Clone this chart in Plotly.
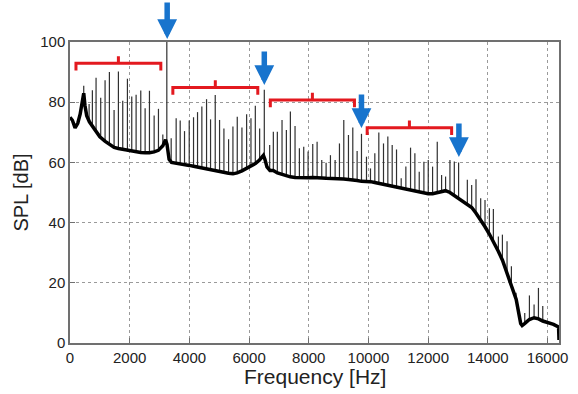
import numpy as np
import plotly.graph_objects as go

# ---------------- data ----------------
base_freq = [0, 80, 170, 260, 340, 420, 460, 500, 560, 650, 750, 870, 1000, 1180, 1320,
             1480, 1620, 1770, 1920, 2070, 2220, 2370, 2520, 2660, 2820, 2960, 3110, 3200,
             3250, 3320, 3400, 3560, 3700, 3840, 4000, 4140, 4280, 4420, 4580, 4710, 4870,
             5010, 5160, 5310, 5460, 5600, 5760, 5920, 6060, 6210, 6350, 6480, 6530, 6600,
             6700, 6810, 6950, 7100, 7250, 7380, 7540, 7690, 7830, 7980, 8130, 8280, 8440,
             8580, 8730, 8880, 9030, 9170, 9330, 9480, 9620, 9770, 9930, 10070, 10210, 10350,
             10500, 10650, 10800, 10940, 11100, 11250, 11410, 11560, 11700, 11860, 12000,
             12150, 12300, 12450, 12580, 12730, 12880, 13020, 13160, 13310, 13460, 13600,
             13760, 13900, 14050, 14190, 14350, 14490, 14640, 14790, 14950, 15100, 15150,
             15240, 15390, 15550, 15700, 15840, 16000, 16200, 16370, 16384]
base_spl = [75, 74, 71.5, 73, 76, 81, 83, 79, 75.5, 73.5, 72, 70.5, 68.5, 67, 66,
            65, 64.6, 64.3, 64, 63.8, 63.5, 63.3, 63.2, 63.2, 63.5, 64, 65.5, 67.5,
            66, 61, 60, 59.8, 59.5, 59.3, 59, 58.7, 58.4, 58.2, 57.8, 57.5, 57.3,
            57, 56.7, 56.4, 56.2, 56.5, 57.2, 58, 58.8, 59.6, 60.8, 62.3, 61, 58.5,
            57.3, 57.3, 56.5, 56, 55.5, 55.2, 55, 54.9, 54.9, 54.9, 55, 55, 54.8,
            54.7, 54.7, 54.6, 54.5, 54.5, 54.3, 54.2, 54, 53.7, 53.8, 53.6, 53.3, 53,
            52.7, 52.4, 52.1, 51.8, 51.5, 51.2, 50.8, 50.5, 50.2, 49.8, 49.6,
            49.6, 49.9, 50.4, 50.6, 50, 49, 48.2, 47.2, 46.3, 45, 43.2,
            41, 38.7, 36.2, 33.8, 30.5, 27.5, 23.5, 19.5, 14.5, 6.5, 5.8,
            6.5, 7.8, 8.4, 8, 7.3, 6.8, 6.2, 5.3, 1]

spike_freq = [460, 640, 750, 873, 1029, 1175, 1320, 1477, 1622, 1767, 1924, 2069, 2215, 2371,
              2517, 2662, 2819, 2964, 3110, 3244,
              3390, 3557, 3692, 3837, 3994, 4139, 4273, 4418, 4575, 4709, 4866, 5011, 5157,
              5313, 5459, 5604, 5761, 5918, 6063, 6209, 6354, 6510,
              6690, 6813, 6947, 7104, 7250, 7384, 7540, 7686, 7831, 7977, 8133, 8279, 8435,
              8581, 8726, 8883, 9028, 9173, 9330, 9475, 9620, 9766,
              9934, 10068, 10213, 10347, 10504, 10649, 10795, 10940, 11097, 11253, 11410,
              11555, 11701, 11857, 12003, 12148, 12305, 12450, 12584, 12730, 12876, 13020,
              13313, 13458, 13603, 13760, 13905, 14051, 14185, 14353, 14488, 14643, 14789,
              14945, 15236, 15393, 15549, 15695, 15840]
spike_spl = [85.5, 79.4, 84, 88.1, 81.5, 87.3, 90, 77.4, 90.2, 80.5, 87.8, 81.9, 82.5, 83.9,
             78, 83.8, 75.6, 77.8, 69.3, 100,
             68, 74.7, 73.9, 70.4, 73.9, 75, 76.7, 78.6, 81, 74.3, 82.4, 74.1, 71.3,
             67.7, 71.9, 75.2, 71.6, 76, 74.7, 78.8, 71.3, 84.1,
             65.8, 70.2, 70.2, 74.1, 70.8, 76.9, 72.1, 64.7, 65.2, 63.6, 66.1, 66.9, 60.8,
             59.9, 62.4, 60.8, 66.3, 74.1, 69.1, 71.6, 63.8, 69.5,
             61.9, 58, 63, 69.9, 66.3, 68.6, 65.8, 64.3, 54.7, 58.6, 64.9,
             63, 56.9, 60.2, 60.8, 58.6, 66.9, 55.8, 55.3, 60.8, 60.3, 60,
             54.2, 52.5, 54.4, 48.1, 47.5, 44.8, 44.5, 35.4, 36, 33.8, 25.5,
             16.7, 10, 15.8, 12.8, 18.3, 12.3]

arrow_freq = [3256, 6510, 9766, 13030]
arrow_tip = [100, 85.7, 71.4, 61.8]

bracket_start = [200, 3446, 6712, 9957]
bracket_end = [3043, 6292, 9531, 12787]
bracket_level = [92.9, 84.9, 80.7, 71.5]

x_ticks = [0, 2000, 4000, 6000, 8000, 10000, 12000, 14000, 16000]
x_tick_labels = ["0", "2000", "4000", "6000", "8000", "10000", "12000", "14000", "16000"]
y_ticks = [0, 20, 40, 60, 80, 100]
y_tick_labels = ["0", "20", "40", "60", "80", "100"]

# ---------------- build traces ----------------
bf = np.array(base_freq, dtype=float)
bs = np.array(base_spl, dtype=float)
sf = np.array(spike_freq, dtype=float)
nearest = np.abs(bf[:, None] - sf[None, :]).argmin(axis=0)

sx, sy = [], []
for f, p, i in zip(spike_freq, spike_spl, nearest):
    sx += [f, f, None]
    sy += [bs[i], p, None]

LEG = 2.4  # bracket leg length in dB
bx, by = [], []
for s, e, lvl in zip(bracket_start, bracket_end, bracket_level):
    m = (s + e) / 2
    bx += [s, s, m, m, m, e, e, None]
    by += [lvl - LEG, lvl, lvl, lvl + LEG, lvl, lvl, lvl - LEG, None]

FONT = "Liberation Sans, Arial, sans-serif"

fig = go.Figure()
fig.add_trace(go.Scatter(x=sx, y=sy, mode="lines",
                         line=dict(color="#303030", width=1.2),
                         hoverinfo="skip", showlegend=False))
fig.add_trace(go.Scatter(x=base_freq, y=base_spl, mode="lines",
                         line=dict(color="black", width=3.5),
                         showlegend=False))
fig.add_trace(go.Scatter(x=bx, y=by, mode="lines",
                         line=dict(color="#e3191f", width=3),
                         hoverinfo="skip", showlegend=False, cliponaxis=False))

for i, (f, t) in enumerate(zip(arrow_freq, arrow_tip)):
    fig.add_annotation(x=f, y=t, xref="x", yref="y", text="", showarrow=True,
                       ax=0, ay=-38 if i == 0 else -35, yshift=3 if i == 0 else 0,
                       arrowhead=2, arrowsize=0.72, arrowwidth=5.5,
                       arrowcolor="#1874cd", standoff=0)

# x-axis title placed as a centred text below the tick labels
fig.add_annotation(text="Frequency [Hz]", xref="paper", yref="paper", x=0.5, y=-0.11,
                   xanchor="center", yanchor="middle", showarrow=False,
                   font=dict(family=FONT, size=21, color="#222"))

axis_common = dict(showgrid=True, gridcolor="#9a9a9a", griddash="dot", gridwidth=1,
                   showline=True, mirror=True, linecolor="#707070", linewidth=1.5,
                   ticks="inside", ticklen=5, tickcolor="#707070", zeroline=False,
                   automargin=False,
                   tickfont=dict(family=FONT, size=15, color="#222"))

fig.update_xaxes(range=[0, 16384], tickvals=x_ticks, ticktext=x_tick_labels,
                 **axis_common)
fig.update_yaxes(range=[0, 100], tickvals=y_ticks, ticktext=y_tick_labels,
                 title=dict(text="SPL [dB]", standoff=6,
                            font=dict(family=FONT, size=20, color="#222")),
                 **axis_common)

fig.update_layout(width=578, height=394,
                  margin=dict(l=70, r=19, t=42, b=51),
                  paper_bgcolor="white", plot_bgcolor="white",
                  showlegend=False)

fig.write_html("out.html", config={"displayModeBar": False},
               post_script="document.body.style.margin='0px';document.body.style.padding='0px';")
